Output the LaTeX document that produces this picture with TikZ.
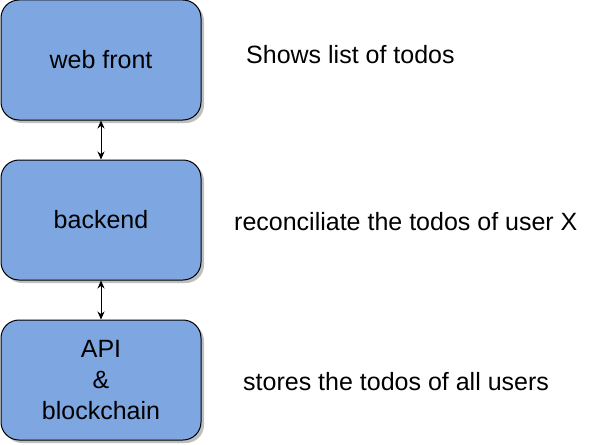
\documentclass[tikz,border=0pt]{standalone}
\usepackage{fontspec}
\setmainfont{Liberation Sans}
\usetikzlibrary{arrows.meta,shadows}
\definecolor{boxblue}{HTML}{7EA6E0}
\tikzset{
  layerbox/.style={draw=black, line width=1pt, fill=boxblue, rounded corners=18pt,
    minimum width=200pt, minimum height=120pt, inner sep=0pt, align=center,
    font=\fontsize{25}{29}\selectfont,
    drop shadow={shadow xshift=3pt, shadow yshift=-3pt, fill=black!25, opacity=1}},
  note/.style={anchor=west, inner sep=0pt, font=\fontsize{25}{29}\selectfont},
  link/.style={line width=1pt, {Stealth[length=8pt,width=7pt]}-{Stealth[length=8pt,width=7pt]}}
}
\begin{document}
\begin{tikzpicture}[x=1pt,y=-1pt]
\useasboundingbox (0,0) rectangle (591,444);
\node[layerbox] (web) at (101,60) {web front};
\node[layerbox] (back) at (101,220) {backend};
\node[layerbox] (api) at (101,380) {API\\[2pt]\&\\[2pt]blockchain};
\draw[link] (web.south) -- (back.north);
\draw[link] (back.south) -- (api.north);
\node[note] (n1) at (246,55) {Shows list of todos};
\node[note] (n2) at (234,222) {reconciliate the todos of user X};
\node[note] (n3) at (243,382) {stores the todos of all users};
\end{tikzpicture}
\end{document}
